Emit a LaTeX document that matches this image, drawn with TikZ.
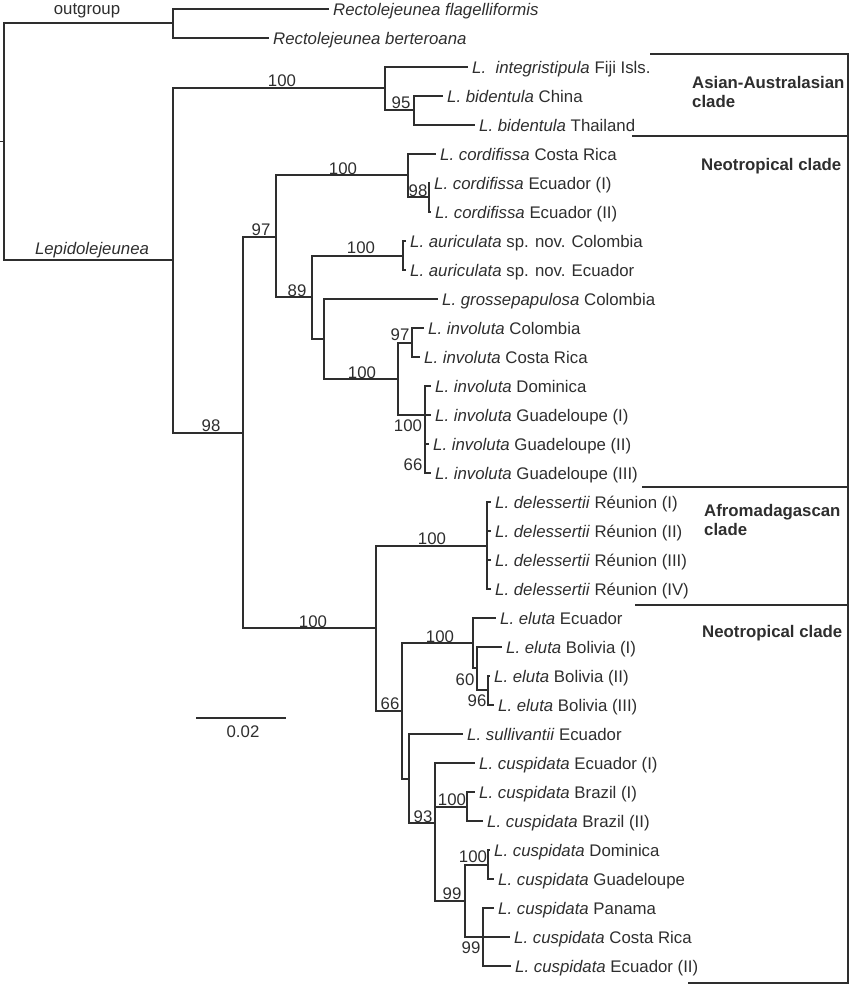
\documentclass[tikz,border=0pt]{standalone}
\usepackage{fontspec}
\setmainfont{Liberation Sans}
\usetikzlibrary{positioning}

\begin{document}
\begin{tikzpicture}[
				x=1pt, y=-1pt,
				font=\fontsize{16.8}{18.5}\selectfont,
				color=black!82,
				leaf/.style={anchor=west, inner xsep=4pt, inner ysep=0pt, text height=12pt, text depth=0pt},
				supp/.style={inner sep=0pt, text height=12pt, text depth=0pt},
				clade/.style={anchor=west, inner sep=0pt, align=left, font=\fontsize{16.8}{18.5}\selectfont\bfseries},
				br/.style={line width=1.6pt}
				]
				\useasboundingbox (0,0) rectangle (850,985);
				
				\node[leaf] (flag) at (329,9) {\textit{Rectolejeunea flagelliformis}};
				\node[leaf] (bert) at (269,38) {\textit{Rectolejeunea berteroana}};
				\node[leaf] (integ) at (468,67) {\textit{L.\ \ integristipula} Fiji Isls.};
				\node[leaf] (bidC) at (443,96) {\textit{L. bidentula} China};
				\node[leaf] (bidT) at (475,125) {\textit{L. bidentula} Thailand};
				\node[leaf] (corCR) at (436,154) {\textit{L. cordifissa} Costa Rica};
				\node[leaf] (corE1) at (430,183) {\textit{L. cordifissa} Ecuador (I)};
				\node[leaf] (corE2) at (431,212) {\textit{L. cordifissa} Ecuador (II)};
				\node[leaf] (aurC) at (406,241) {\textit{L. auriculata} sp. nov. Colombia};
				\node[leaf] (aurE) at (406,270) {\textit{L. auriculata} sp. nov. Ecuador};
				\node[leaf] (gros) at (438,299) {\textit{L. grossepapulosa} Colombia};
				\node[leaf] (invCo) at (424,328) {\textit{L. involuta} Colombia};
				\node[leaf] (invCR) at (420,357) {\textit{L. involuta} Costa Rica};
				\node[leaf] (invD) at (431,386) {\textit{L. involuta} Dominica};
				\node[leaf] (invG1) at (431,415) {\textit{L. involuta} Guadeloupe (I)};
				\node[leaf] (invG2) at (429,444) {\textit{L. involuta} Guadeloupe (II)};
				\node[leaf] (invG3) at (431,473) {\textit{L. involuta} Guadeloupe (III)};
				\node[leaf] (del1) at (491,502) {\textit{L. delessertii} Réunion (I)};
				\node[leaf] (del2) at (491,531) {\textit{L. delessertii} Réunion (II)};
				\node[leaf] (del3) at (491,560) {\textit{L. delessertii} Réunion (III)};
				\node[leaf] (del4) at (491,589) {\textit{L. delessertii} Réunion (IV)};
				\node[leaf] (eluE) at (496,618) {\textit{L. eluta} Ecuador};
				\node[leaf] (eluB1) at (502,647) {\textit{L. eluta} Bolivia (I)};
				\node[leaf] (eluB2) at (490,676) {\textit{L. eluta} Bolivia (II)};
				\node[leaf] (eluB3) at (494,705) {\textit{L. eluta} Bolivia (III)};
				\node[leaf] (sull) at (463,734) {\textit{L. sullivantii} Ecuador};
				\node[leaf] (cusE1) at (475,763) {\textit{L. cuspidata} Ecuador (I)};
				\node[leaf] (cusB1) at (475,792) {\textit{L. cuspidata} Brazil (I)};
				\node[leaf] (cusB2) at (483,821) {\textit{L. cuspidata} Brazil (II)};
				\node[leaf] (cusD) at (490,850) {\textit{L. cuspidata} Dominica};
				\node[leaf] (cusG) at (494,879) {\textit{L. cuspidata} Guadeloupe};
				\node[leaf] (cusP) at (494,908) {\textit{L. cuspidata} Panama};
				\node[leaf] (cusCR) at (510,937) {\textit{L. cuspidata} Costa Rica};
				\node[leaf] (cusE2) at (511,966) {\textit{L. cuspidata} Ecuador (II)};
				
				\coordinate (rootstub) at (0,141.5);
				\coordinate (root) at (4,141.5);
				\coordinate (outg) at (173,23);
				\coordinate (lepi) at (173,260);
				\coordinate (asia) at (385,88);
				\coordinate (asia95) at (414,110);
				\coordinate (n98) at (243,433);
				\coordinate (n97) at (276,237);
				\coordinate (cord) at (408,175);
				\coordinate (cord98) at (429,197);
				\coordinate (n89) at (312,297);
				\coordinate (auri) at (403,256);
				\coordinate (grosn) at (324,339);
				\coordinate (invo) at (398,379);
				\coordinate (invo97) at (412,343);
				\coordinate (invo100) at (425,415);
				\coordinate (afro) at (376,628);
				\coordinate (dele) at (487,546);
				\coordinate (n66) at (402,711);
				\coordinate (elut) at (473,643);
				\coordinate (elut60) at (477,668);
				\coordinate (elut96) at (488,690);
				\coordinate (sulln) at (409,779);
				\coordinate (n93) at (435,823);
				\coordinate (braz) at (467,807);
				\coordinate (cusp99a) at (465,901);
				\coordinate (domi) at (488,865);
				\coordinate (cusp99b) at (483,937);
				
				\draw[br] (rootstub) -- (root);
				\draw[br] (root) |- (outg);
				\draw[br] (root) |- (lepi);
				\draw[br] (outg) |- (flag.west);
				\draw[br] (outg) |- (bert.west);
				\draw[br] (lepi) |- (asia);
				\draw[br] (lepi) |- (n98);
				\draw[br] (asia) |- (integ.west);
				\draw[br] (asia) |- (asia95);
				\draw[br] (asia95) |- (bidC.west);
				\draw[br] (asia95) |- (bidT.west);
				\draw[br] (n98) |- (n97);
				\draw[br] (n98) |- (afro);
				\draw[br] (n97) |- (cord);
				\draw[br] (n97) |- (n89);
				\draw[br] (cord) |- (corCR.west);
				\draw[br] (cord) |- (cord98);
				\draw[br] (cord98) |- (corE1.west);
				\draw[br] (cord98) |- (corE2.west);
				\draw[br] (n89) |- (auri);
				\draw[br] (n89) |- (grosn);
				\draw[br] (auri) |- (aurC.west);
				\draw[br] (auri) |- (aurE.west);
				\draw[br] (grosn) |- (gros.west);
				\draw[br] (grosn) |- (invo);
				\draw[br] (invo) |- (invo97);
				\draw[br] (invo) |- (invo100);
				\draw[br] (invo97) |- (invCo.west);
				\draw[br] (invo97) |- (invCR.west);
				\draw[br] (invo100) |- (invD.west);
				\draw[br] (invo100) |- (invG1.west);
				\draw[br] (invo100) |- (invG2.west);
				\draw[br] (invo100) |- (invG3.west);
				\draw[br] (afro) |- (dele);
				\draw[br] (afro) |- (n66);
				\draw[br] (dele) |- (del1.west);
				\draw[br] (dele) |- (del2.west);
				\draw[br] (dele) |- (del3.west);
				\draw[br] (dele) |- (del4.west);
				\draw[br] (n66) |- (elut);
				\draw[br] (n66) |- (sulln);
				\draw[br] (elut) |- (eluE.west);
				\draw[br] (elut) |- (elut60);
				\draw[br] (elut60) |- (eluB1.west);
				\draw[br] (elut60) |- (elut96);
				\draw[br] (elut96) |- (eluB2.west);
				\draw[br] (elut96) |- (eluB3.west);
				\draw[br] (sulln) |- (sull.west);
				\draw[br] (sulln) |- (n93);
				\draw[br] (n93) |- (cusE1.west);
				\draw[br] (n93) |- (braz);
				\draw[br] (n93) |- (cusp99a);
				\draw[br] (braz) |- (cusB1.west);
				\draw[br] (braz) |- (cusB2.west);
				\draw[br] (cusp99a) |- (domi);
				\draw[br] (cusp99a) |- (cusp99b);
				\draw[br] (domi) |- (cusD.west);
				\draw[br] (domi) |- (cusG.west);
				\draw[br] (cusp99b) |- (cusP.west);
				\draw[br] (cusp99b) |- (cusCR.west);
				\draw[br] (cusp99b) |- (cusE2.west);
				
				\node[supp] (outgl) at (87,8) {outgroup};
				\node[supp] (lepil) at (92,248) {\textit{Lepidolejeunea}};
				\node[supp] (bsAsia) at (282,80) {100};
				\node[supp] (bs95) at (401,102) {95};
				\node[supp] (bs98) at (211,425) {98};
				\node[supp] (bs97) at (261,229) {97};
				\node[supp] (bsCord) at (343,168) {100};
				\node[supp] (bsCord98) at (418,190) {98};
				\node[supp] (bsAuri) at (361,247) {100};
				\node[supp] (bs89) at (297,290) {89};
				\node[supp] (bsInvo) at (362,372) {100};
				\node[supp] (bsInvo97) at (400,334) {97};
				\node[supp] (bsInvo100) at (408,425) {100};
				\node[supp] (bsInvo66) at (413,464) {66};
				\node[supp] (bsAfro) at (313,621) {100};
				\node[supp] (bsDele) at (432,538) {100};
				\node[supp] (bs66) at (390,703) {66};
				\node[supp] (bsElut) at (440,636) {100};
				\node[supp] (bs60) at (465,679) {60};
				\node[supp] (bs96) at (477,700) {96};
				\node[supp] (bs93) at (423,816) {93};
				\node[supp] (bsBraz) at (452,799) {100};
				\node[supp] (bsDomi) at (473,856) {100};
				\node[supp] (bs99a) at (452,893) {99};
				\node[supp] (bs99b) at (471,947) {99};
				
				\coordinate (sbL) at (196,718);
				\coordinate (sbR) at (286,718);
				\draw[br] (sbL) -- (sbR);
				\node[supp] (sbLabel) at (243,731) {0.02};
				
				\coordinate (brTop) at (848,54);
				\coordinate (brBot) at (848,983);
				\coordinate (tAsia) at (650,54);
				\coordinate (tNeo1) at (632,136);
				\coordinate (tAfro) at (642,487);
				\coordinate (tNeo2) at (635,605);
				\coordinate (tEnd) at (688,983);
				\draw[br] (tAsia) -- (brTop) -- (brBot) -- (tEnd);
				\draw[br] (tNeo1) -- (tNeo1 -| brTop);
				\draw[br] (tAfro) -- (tAfro -| brTop);
				\draw[br] (tNeo2) -- (tNeo2 -| brTop);
				
				\node[clade] (cAsia) at (692,92) {Asian-Australasian\\clade};
				\node[clade, text height=12pt, text depth=0pt] (cNeo1) at (701,164) {Neotropical clade};
				\node[clade] (cAfro) at (704,520) {Afromadagascan\\clade};
				\node[clade, text height=12pt, text depth=0pt] (cNeo2) at (702,631) {Neotropical clade};
				
			\end{tikzpicture}
\end{document}
